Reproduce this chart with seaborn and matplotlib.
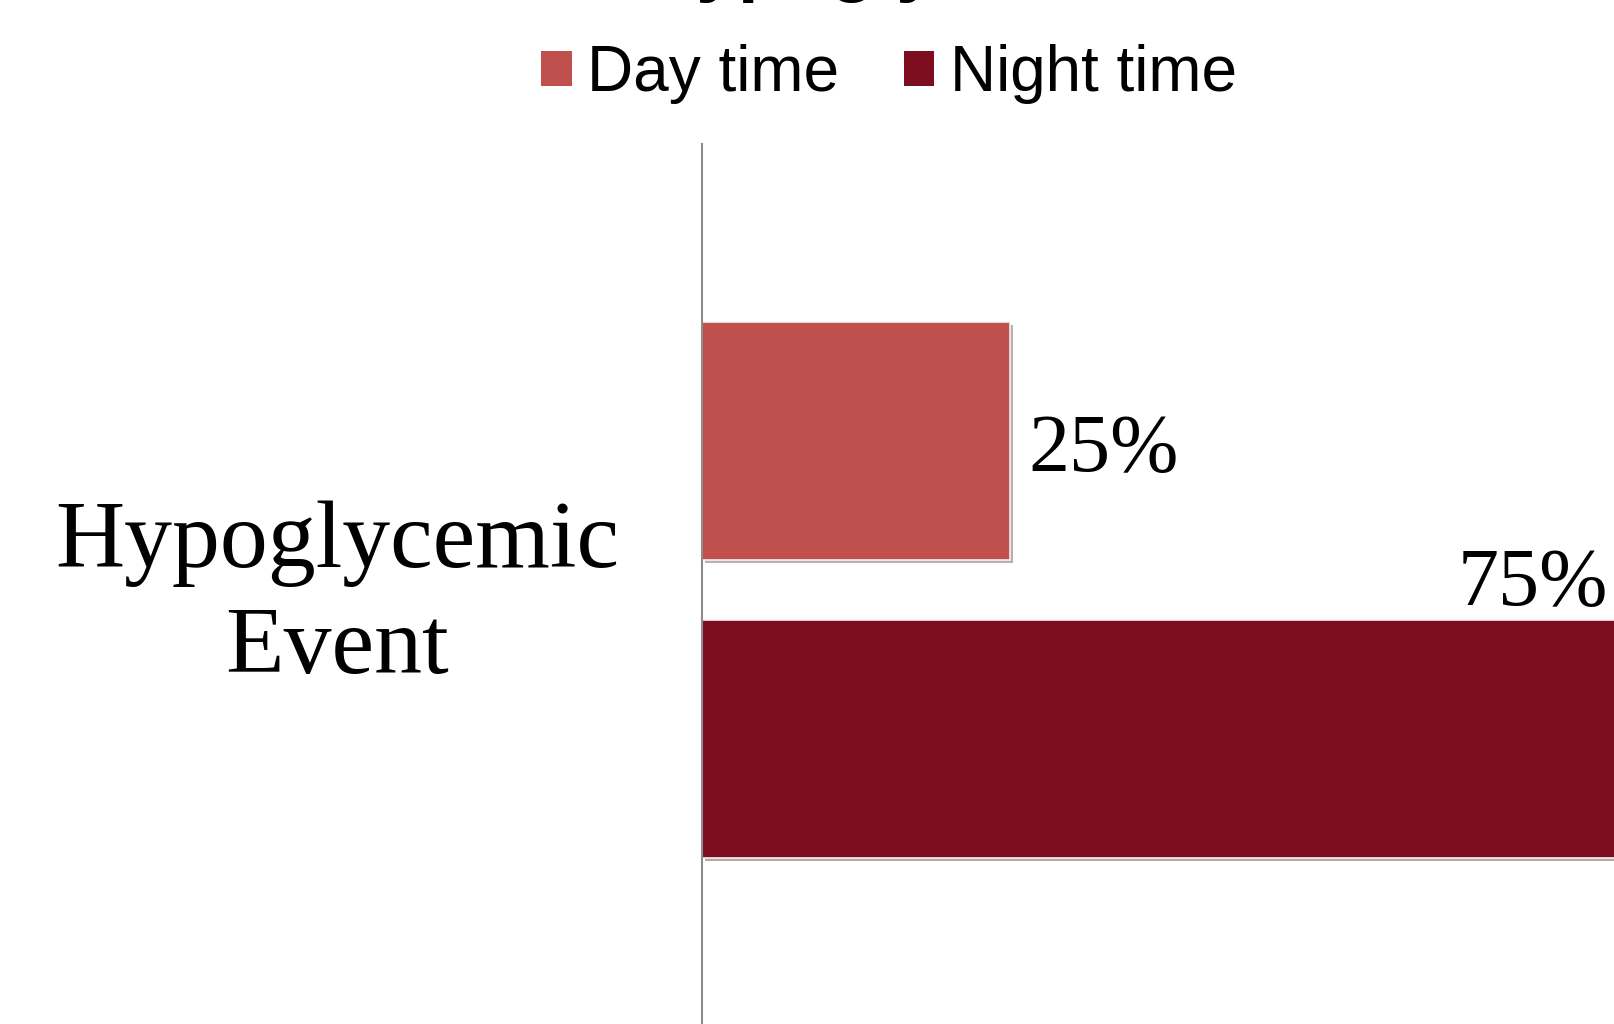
import pandas as pd
import matplotlib.pyplot as plt
import matplotlib.patheffects as pe
from matplotlib.patches import Patch
import seaborn as sns

# data
category = ["Hypoglycemic\nEvent"]
periods = ["Day time", "Night time"]
shares = [0.25, 0.75]
labels = ["25%", "75%"]
colors = ["#C0504D", "#7C0E20"]

df = pd.DataFrame({
    "Event": category * len(periods),
    "Period": periods,
    "Share": shares,
})

sns.set_theme(style="white")
plt.rcParams["font.family"] = ["Liberation Sans", "DejaVu Sans"]
plt.rcParams["text.color"] = "black"

fig = plt.figure(figsize=(16.15, 10.24), dpi=100)
ax = fig.add_axes([702 / 1615, -0.0117, 924 / 1615, 0.8711])

sns.barplot(data=df, y="Event", x="Share", hue="Period", palette=colors,
            saturation=1, width=0.668, gap=0.2, orient="h", ax=ax,
            legend=False, edgecolor="#f2f2f2", linewidth=1.2)

for bar in ax.patches:
    bar.set_path_effects([pe.SimplePatchShadow(offset=(2, -2), alpha=0.35),
                          pe.Normal()])

ax.set_xlim(0, 0.75)
ax.set_ylim(0.5, -0.5)
ax.set_xlabel("")
ax.set_ylabel("")
ax.set_xticks([])
ax.set_yticks([])

# value labels
day, night = ax.patches[0], ax.patches[1]
ax.annotate(labels[0], (day.get_width(), day.get_y() + day.get_height() / 2),
            xytext=(18, -10), textcoords="offset pixels", ha="left", va="center",
            fontsize=59, family="Liberation Serif", annotation_clip=False)
ax.annotate(labels[1], (night.get_width(), night.get_y()),
            xytext=(-18, -3), textcoords="offset pixels", ha="right",
            va="bottom", fontsize=59, family="Liberation Serif",
            annotation_clip=False)

# category label, left of the axis
ax.annotate(category[0], (0, 0), xycoords=("axes fraction", "data"),
            xytext=(-365, 13), textcoords="offset pixels", ha="center",
            va="center_baseline", multialignment="center", linespacing=1.29,
            fontsize=69, family="Liberation Serif", annotation_clip=False)

sns.despine(ax=ax, top=True, right=True, bottom=True)
ax.spines["left"].set_color("#8c8c8c")
ax.spines["left"].set_linewidth(1.5)

# legend
handles = [Patch(facecolor=c, edgecolor="none") for c in colors]
fig.legend(handles, periods, loc="center", bbox_to_anchor=(0.5505, 1 - 74 / 1024),
           ncol=2, frameon=False, fontsize=46, handlelength=0.47,
           handleheight=0.47, handletextpad=0.25, columnspacing=1.0)

# title, mostly cut off at the top edge
fig.text(642 / 1615, 1 + 12 / 1024, "Hypoglycemia", fontsize=54,
         fontweight="bold", ha="left", va="baseline")

fig.savefig("out.png", dpi=100)
